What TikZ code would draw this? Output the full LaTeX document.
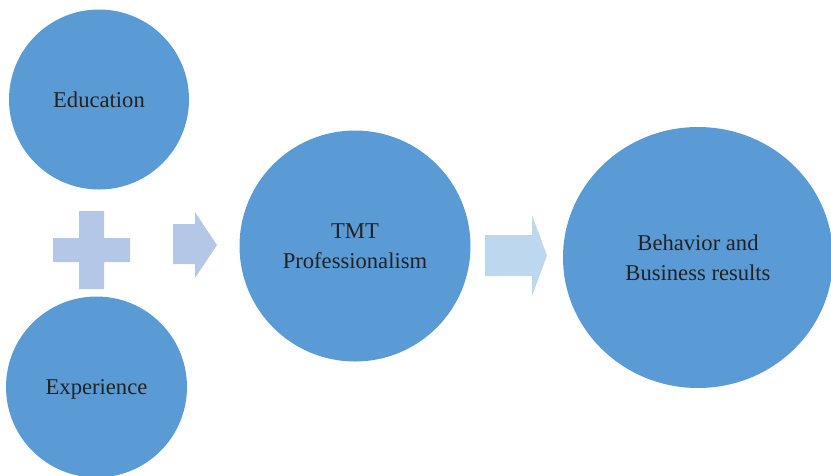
\documentclass[tikz,border=0pt]{standalone}
\usepackage{fontspec}
\setmainfont{Liberation Serif}
\usetikzlibrary{shapes.geometric}
\begin{document}
\begin{tikzpicture}[x=1pt,y=-1pt,
  bubble/.style={circle, fill=bubbleblue, draw=none, inner sep=0pt,
    align=center, text=textgrey, font=\fontsize{22.6}{30}\selectfont},
  markshape/.style={fill=plusblue, draw=none},
  flowshape/.style={fill=arrowblue, draw=none}]
\definecolor{bubbleblue}{HTML}{5B9BD5}
\definecolor{plusblue}{HTML}{B4C7E7}
\definecolor{arrowblue}{HTML}{BDD7EE}
\definecolor{textgrey}{HTML}{222222}
\useasboundingbox (0,0) rectangle (831,475);
\clip (0,0) rectangle (831,475);

% input bubbles
\node[bubble, minimum size=180pt] (edu) at (99,99.5) {Education};
\node[bubble, minimum size=181pt] (exp) at (96.5,387) {\raisebox{0pt}[\height][0pt]{Experience}};

% plus sign between the inputs
\fill[markshape] (79,211) -- (104,211) -- (104,238) -- (130,238) -- (130,262)
  -- (104,262) -- (104,289) -- (79,289) -- (79,262) -- (53,262) -- (53,238)
  -- (79,238) -- cycle;

% central bubble
\node[bubble, minimum size=231pt] (tmt) at (355,246) {TMT\\Professionalism};

% outcome bubble (slightly wider than tall)
\node[bubble, ellipse, minimum width=270pt, minimum height=261pt] (res)
  at (698,257.5) {Behavior and\\Business results};

% block arrows
\coordinate (a1) at (173,245);
\fill[markshape] (a1) ++(0,-21) -- ++(22,0) -- ++(0,-12) -- (217,245)
  -- (195,278) -- ++(0,-14) -- (173,264) -- cycle;
\coordinate (a2) at (485,255.5);
\fill[flowshape] (a2) ++(0,-20.5) -- ++(47,0) -- ++(0,-20) -- (547,255.5)
  -- (532,296) -- ++(0,-20) -- (485,276) -- cycle;
\end{tikzpicture}
\end{document}
